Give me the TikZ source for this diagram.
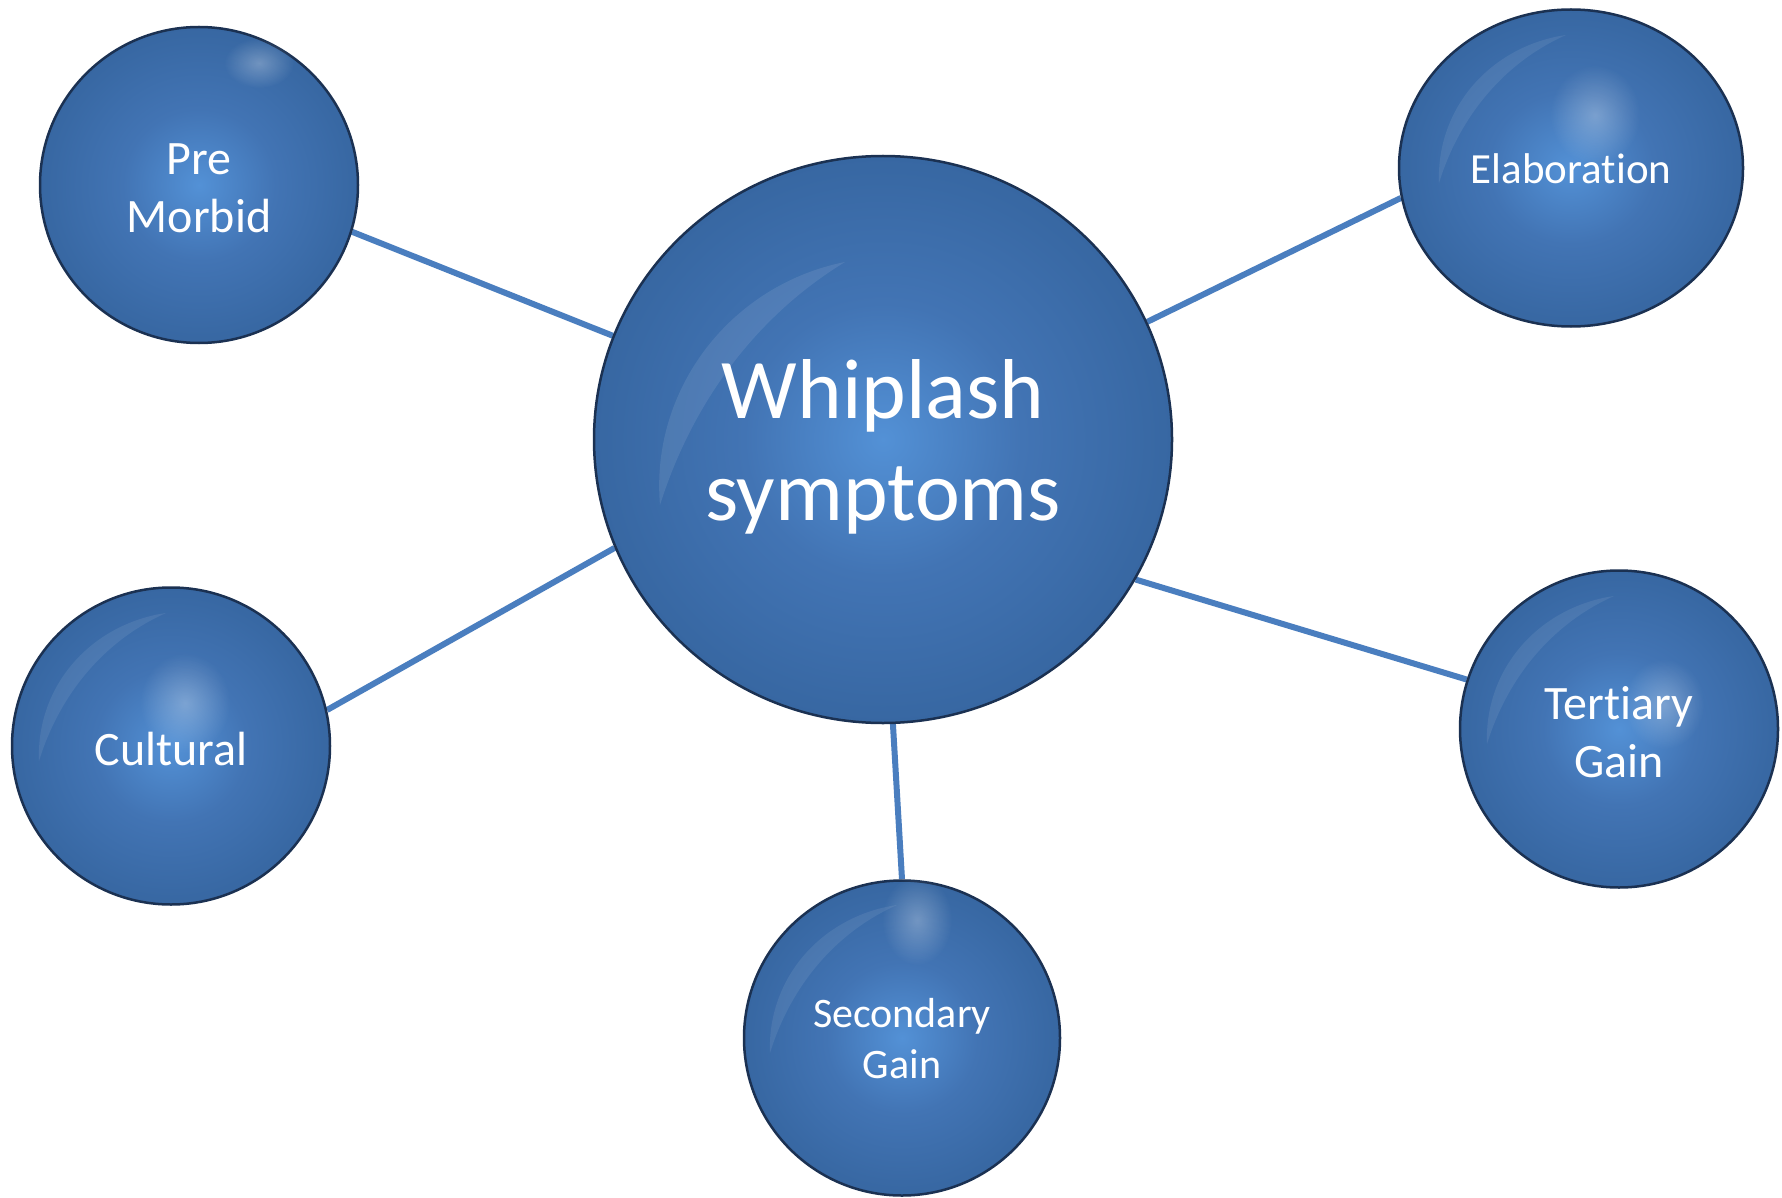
\documentclass[tikz,border=0pt]{standalone}
\usepackage{fontspec}
\setmainfont{Carlito}[Ligatures=NoCommon]
\usetikzlibrary{shapes.geometric,fadings}
\pgfdeclarelayer{bg}
\pgfsetlayers{bg,main}
\definecolor{ballin}{HTML}{5391D6}
\definecolor{ballmid}{HTML}{4274B4}
\definecolor{ballout}{HTML}{33629B}
\definecolor{balldark}{HTML}{2B5587}
\definecolor{balledge}{HTML}{244A78}
\definecolor{ballrim}{HTML}{1B3152}
\definecolor{linkblue}{HTML}{4A7EBF}
\pgfdeclareradialshading{ballshade}{\pgfpoint{0bp}{0bp}}{color(0bp)=(ballin); color(12bp)=(ballmid); color(30bp)=(ballout); color(45bp)=(balldark); color(50bp)=(balledge)}
\tikzfading[name=glowfade, inner color=transparent!0, outer color=transparent!100]
\tikzset{
  ball/.style={ellipse, draw=ballrim, line width=2.5pt, shading=ballshade, text=white, align=center, inner sep=0pt},
  lbl/.style={text=white, align=center, inner sep=0pt},
  bigtext/.style={font=\fontsize{85}{102}\selectfont},
  smalltext/.style={font=\fontsize{48}{58}\selectfont},
  sectext/.style={font=\fontsize{42}{51}\selectfont},
  elabtext/.style={font=\fontsize{43}{52}\selectfont},
  link/.style={draw=linkblue, line width=6pt},
  gloss/.style={fill=white, path fading=glowfade, opacity=0.28},
  crescent/.pic={\fill[white, opacity=0.08] (-5,-133) .. controls (-80,-122) and (-135,-60) .. (-132,15)
     .. controls (-112,-50) and (-68,-105) .. (-5,-133) -- cycle;},
}
\begin{document}
\begin{tikzpicture}[x=1pt,y=-1pt]
\begin{pgfonlayer}{bg}
\fill[white] (0,0) rectangle (1782,1198);
\end{pgfonlayer}
\useasboundingbox (0,0) rectangle (1782,1198);

\node[ball, minimum width=578pt, minimum height=567pt] (main) at (883,439.5) {};
\node[ball, minimum width=318pt, minimum height=316pt] (pm) at (199,185) {};
\node[ball, minimum width=344pt, minimum height=317pt] (el) at (1571,168) {};
\node[ball, minimum width=318pt, minimum height=317pt] (cu) at (171,746) {};
\node[ball, minimum width=318pt, minimum height=317pt] (tg) at (1619,729) {};
\node[ball, minimum width=316pt, minimum height=315pt] (sg) at (902,1038) {};

\begin{pgfonlayer}{bg}
\draw[link] (main.159) -- (pm.343);
\draw[link] (main.24.5) -- (el.190);
\draw[link] (main.202.4) -- (cu.13.7);
\draw[link] (main.331.7) -- (tg.162.8);
\draw[link] (main.272.5) -- (sg.90);
\end{pgfonlayer}

% glossy highlights
\fill[white, opacity=0.09] (845,262) .. controls (730,285) and (650,390) .. (660,505)
  .. controls (690,410) and (750,320) .. (845,262) -- cycle;
\pic at (cu.center) {crescent};
\pic at (el.center) {crescent};
\pic at (tg.center) {crescent};
\pic at (sg.center) {crescent};
\fill[gloss] ([shift={(14,-43)}]cu.center) ellipse (45 and 50);
\fill[gloss] ([shift={(15,-118)}]sg.center) ellipse (35 and 45);
\fill[gloss] ([shift={(24,-53)}]el.center) ellipse (45 and 50);
\fill[gloss] ([shift={(60,-122)}]pm.center) ellipse (35 and 25);
\fill[gloss] ([shift={(45,-25)}]tg.center) ellipse (40 and 45);

% labels
\node[lbl, bigtext] (mainlbl) at ([yshift=-7pt]main.center) {Whiplash\\symptoms};
\node[lbl, smalltext] (pmlbl) at ([yshift=-3pt]pm.center) {Pre\\Morbid};
\node[lbl, elabtext] (ellbl) at ([yshift=-1pt]el.center) {Elaboration};
\node[lbl, smalltext] (culbl) at ([yshift=-3pt]cu.center) {Cultural};
\node[lbl, smalltext] (tglbl) at ([yshift=-3pt]tg.center) {Tertiary\\Gain};
\node[lbl, sectext] (sglbl) at ([yshift=-1pt]sg.center) {Secondary\\Gain};
\end{tikzpicture}
\end{document}
